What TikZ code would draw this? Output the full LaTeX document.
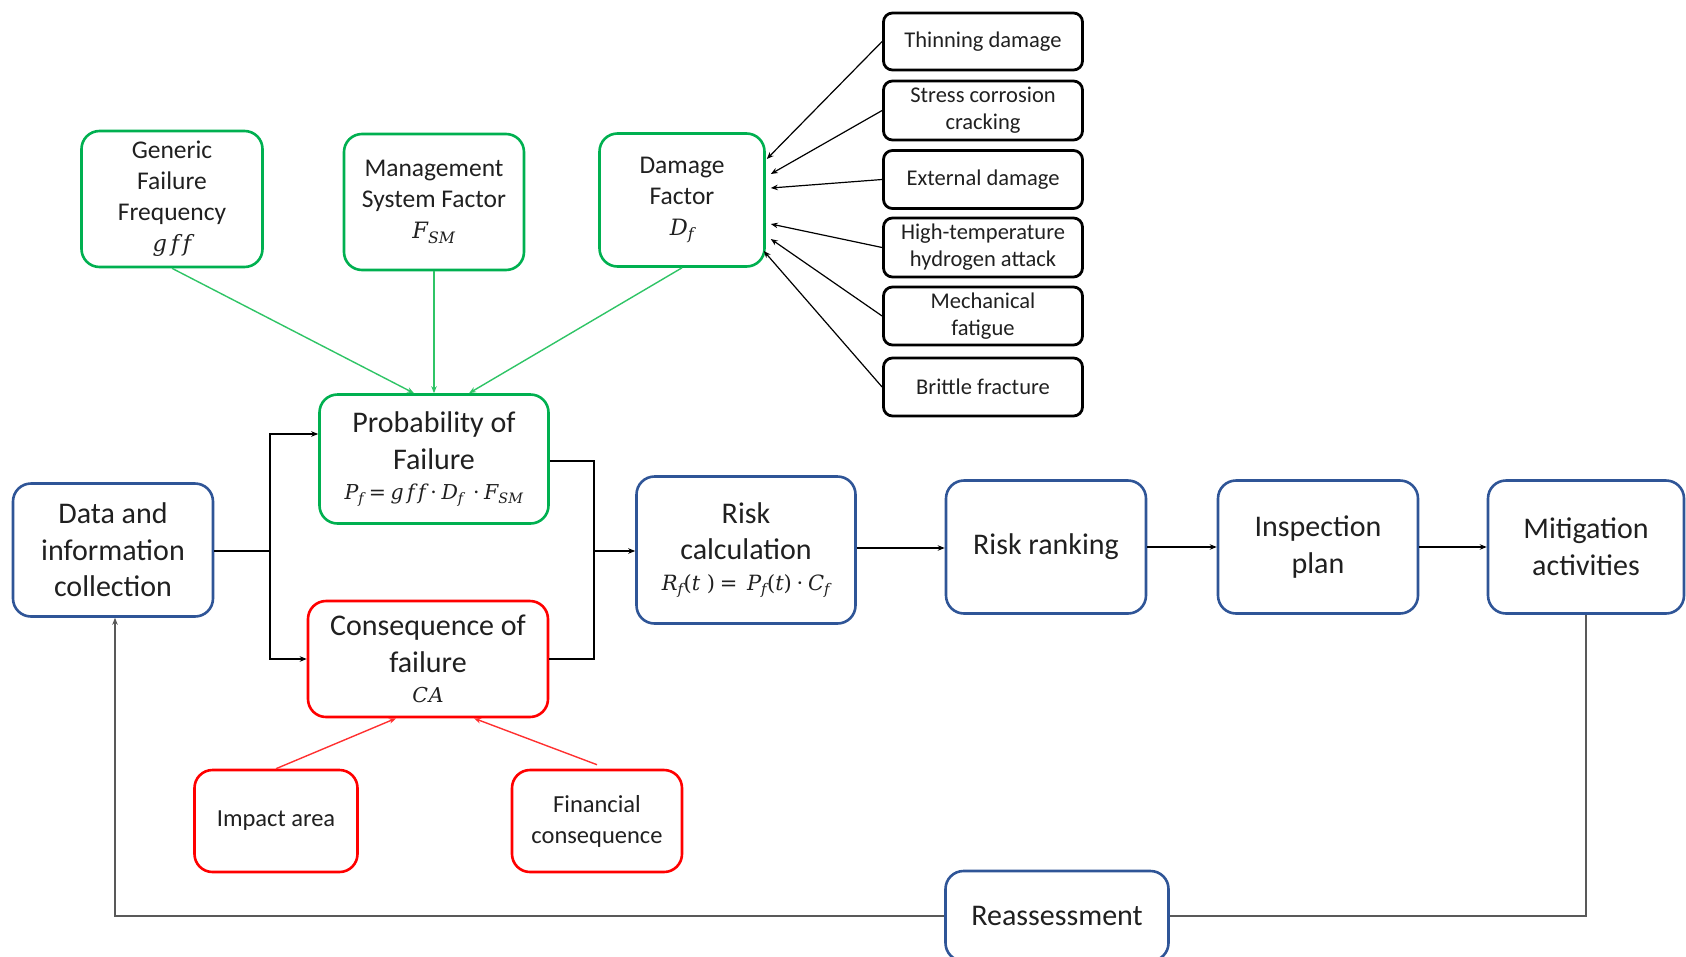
\documentclass[tikz,border=0pt]{standalone}
\usepackage{fontspec}
\setmainfont{Carlito}
\newfontfamily\mfam{DejaVu Serif}
\newcommand{\mv}[1]{{\mfam\itshape #1}}
\newcommand{\sbs}[1]{\textsubscript{\mfam\itshape #1}}
\newcommand{\mop}[1]{{\mfam #1}}
\usetikzlibrary{arrows.meta}
\definecolor{bgreen}{HTML}{00B050}
\definecolor{lgreen}{HTML}{2FC466}
\definecolor{bred}{HTML}{FF0000}
\definecolor{lred}{HTML}{FF3030}
\definecolor{bblue}{HTML}{2F5597}
\definecolor{lgray}{HTML}{595959}
\definecolor{txt}{HTML}{202020}
\tikzset{
  box/.style={rounded corners=18pt, align=center, inner sep=0pt, line width=2.6pt, text=txt},
  bigf/.style={font=\fontsize{30}{36.6}\selectfont},
  midf/.style={font=\fontsize{25.5}{31}\selectfont},
  smallf/.style={font=\fontsize{22.5}{27}\selectfont},
  bluebox/.style={box, draw=bblue, bigf},
  greenbox/.style={box, draw=bgreen, midf},
  redbox/.style={box, draw=bred},
  blackbox/.style={box, draw=black, rounded corners=9pt, line width=2.8pt, smallf, minimum width=199pt, minimum height=57pt},
  tip/.style={-{Stealth[length=7pt,width=5.5pt]}},
  conn/.style={line width=1.4pt, draw=black},
  gconn/.style={line width=1.4pt, draw=lgreen, tip},
  rconn/.style={line width=1.4pt, draw=lred, tip},
  dconn/.style={line width=1.2pt, draw=black, tip},
  grayline/.style={line width=1.8pt, draw=lgray},
}
\begin{document}
\begin{tikzpicture}[x=1pt, y=-1pt]
\useasboundingbox (0,0) rectangle (1686,956);

% green factor boxes
\node[greenbox, minimum width=181pt, minimum height=136pt] (gff) at (172,199)
  {Generic\\Failure\\Frequency\\{\fontsize{22.5}{31}\selectfont\mv{g\,f\,f}}};
\node[greenbox, minimum width=180pt, minimum height=136pt] (msf) at (434,202)
  {Management\\System Factor\\{\fontsize{22.5}{31}\selectfont\mv{F}\sbs{SM}}};
\node[greenbox, minimum width=165pt, minimum height=133pt] (df) at (682,200)
  {Damage\\Factor\\{\fontsize{22.5}{31}\selectfont\mv{D}\sbs{f}}};

% damage mechanisms
\node[blackbox] (thin) at (983,41.5) {Thinning damage};
\node[blackbox, minimum height=59pt] (scc) at (983,110.5) {Stress corrosion\\cracking};
\node[blackbox, minimum height=58pt] (ext) at (983,179.5) {External damage};
\node[blackbox, minimum height=59pt] (hta) at (983,247.5) {High-temperature\\hydrogen attack};
\node[blackbox, minimum height=58pt] (mech) at (983,316) {Mechanical\\fatigue};
\node[blackbox, minimum height=58pt] (brit) at (983,387) {Brittle fracture};

% probability of failure
\node[box, draw=bgreen, bigf, minimum width=229pt, minimum height=129pt] (pof) at (434,459)
  {Probability of\\Failure\\[-6pt]{\fontsize{20.5}{24}\selectfont \mv{P}\sbs{f} \mop{=} \mv{g\,f\,f} \mop{·} \mv{D}\sbs{f}\ \ \mop{·} \mv{F}\sbs{SM}}};

% data
\node[bluebox, minimum width=200pt, minimum height=133pt] (data) at (113,550)
  {Data and\\information\\collection};

% consequence
\node[redbox, bigf, minimum width=240pt, minimum height=116pt] (cof) at (428,659)
  {Consequence of\\failure\\[-6pt]{\fontsize{20.5}{24}\selectfont \mv{C\kern1ptA}}};

% risk chain
\node[bluebox, minimum width=219pt, minimum height=147pt] (risk) at (746,550)
  {Risk\\calculation\\[-6pt]{\fontsize{21}{24}\selectfont \mv{R}\sbs{f}\mop{(}\mv{t}\mop{\ )} \mop{=}\ \ \mv{P}\sbs{f}\mop{(}\mv{t}\mop{)} \mop{·} \mv{C}\sbs{f}}};
\node[bluebox, minimum width=200pt, minimum height=133pt] (rank) at (1046,547) {Risk ranking};
\node[bluebox, minimum width=200pt, minimum height=133pt] (insp) at (1318,547) {Inspection\\plan};
\node[bluebox, minimum width=196pt, minimum height=133pt] (mit) at (1586,547) {Mitigation\\activities};

% consequence inputs
\node[redbox, font=\fontsize{24.5}{31}\selectfont, minimum width=163pt, minimum height=102pt] (impact) at (276,821) {Impact area};
\node[redbox, font=\fontsize{24.5}{31}\selectfont, minimum width=170pt, minimum height=102pt] (fin) at (597,821) {Financial\\consequence};

% reassessment
\node[bluebox, minimum width=223pt, minimum height=90pt] (reas) at (1057,916) {Reassessment};

% green connectors
\draw[gconn] (gff.south) -- ([xshift=-20pt]pof.north);
\draw[gconn] (msf.south) -- (pof.north);
\draw[gconn] (df.south) -- ([xshift=35pt]pof.north);

% damage connectors
\draw[dconn] (thin.west) -- ([xshift=1pt,yshift=41pt]df.east);
\draw[dconn] (scc.west) -- ([xshift=5pt,yshift=26pt]df.east);
\draw[dconn] (ext.west) -- ([xshift=5pt,yshift=12pt]df.east);
\draw[dconn] (hta.west) -- ([xshift=5pt,yshift=-24pt]df.east);
\draw[dconn] (mech.west) -- ([xshift=5pt,yshift=-39pt]df.east);
\draw[dconn] (brit.west) -- ([xshift=-2pt,yshift=-51pt]df.east);

% main flow
\coordinate (s1) at (270,551);
\coordinate (s2) at (594,551);
\draw[conn] (data.east |- s1) -- (s1);
\draw[conn, tip] (s1) |- ([yshift=25pt]pof.west);
\draw[conn, tip] (s1) |- (cof.west);
\draw[conn] ([yshift=-2pt]pof.east) -| (s2);
\draw[conn] (cof.east) -| (s2);
\draw[conn, tip] (s2) -- (risk.west |- s2);
\draw[conn, tip] ([yshift=2pt]risk.east) -- ([yshift=2pt]risk.east -| rank.west);
\draw[conn, tip] (rank.east) -- (insp.west);
\draw[conn, tip] (insp.east) -- (mit.west);

% red connectors
\draw[rconn] (impact.north) -- ([xshift=-32pt]cof.south);
\draw[rconn] ([yshift=4pt]fin.north) -- ([xshift=46pt]cof.south);

% feedback loop
\draw[grayline] (mit.south) |- (reas.east);
\draw[grayline, line width=1.6pt, tip] (reas.west) -| ([xshift=2pt]data.south);
\end{tikzpicture}
\end{document}
